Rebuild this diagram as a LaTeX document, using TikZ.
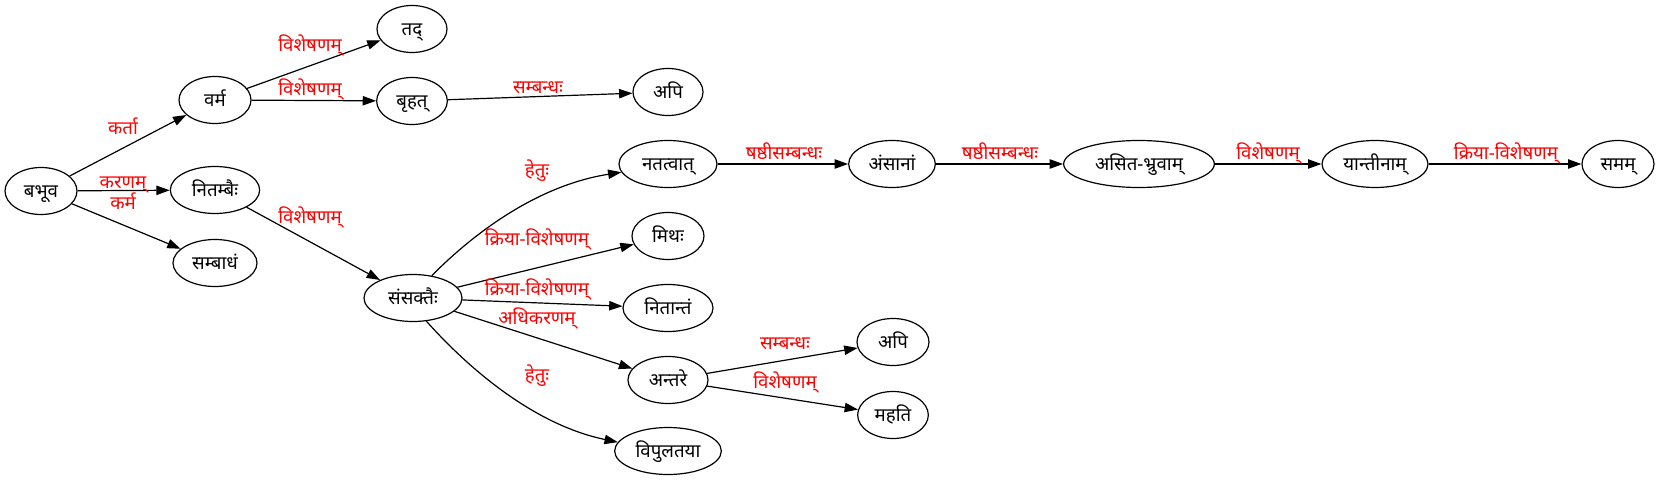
\documentclass[tikz,border=0pt]{standalone}
\usepackage{fontspec}
\setmainfont[Script=Devanagari]{Noto Sans}
\usetikzlibrary{arrows.meta,shapes.geometric}
\newcommand\ntx[1]{\makebox[0pt]{#1}}
\begin{document}
\begin{tikzpicture}[x=0.75pt,y=-0.75pt,
  nd/.style={draw, ellipse, inner sep=0pt, minimum height=35.25pt, line width=0.9pt,
    text height=10pt, text depth=0pt, font=\fontsize{14}{16}\selectfont},
  lbl/.style={text=red, inner sep=0pt, text height=10pt, text depth=0pt,
    font=\fontsize{14}{16}\selectfont},
  edge/.style={draw, line width=0.9pt, -{Triangle[length=10pt,width=7pt]}}]
\fill[white] (0,0) rectangle (1660,481);
\useasboundingbox (0,0) rectangle (1660,481);
% nodes
\node[nd, minimum width=54pt]   (b)     at (41,191)  {\ntx{बभूव}};
\node[nd, minimum width=54pt]   (v)     at (215,100) {\ntx{वर्म}};
\node[nd, minimum width=67pt]   (nit)   at (215,190) {\ntx{नितम्बैः}};
\node[nd, minimum width=63pt]   (sam)   at (215,263) {\ntx{सम्बाधं}};
\node[nd, minimum width=52.5pt] (tad)   at (412,29)  {\ntx{तद्}};
\node[nd, minimum width=53pt]   (br)    at (412,101) {\ntx{बृहत्}};
\node[nd, minimum width=52.5pt] (api1)  at (668,92)  {\ntx{अपि}};
\node[nd, minimum width=73.5pt] (s)     at (413,298) {\ntx{संसक्तैः}};
\node[nd, minimum width=73.5pt] (nat)   at (668,164) {\ntx{नतत्वात्}};
\node[nd, minimum width=54pt]   (mith)  at (668,236) {\ntx{मिथः}};
\node[nd, minimum width=67.5pt] (nitan) at (668,308) {\ntx{नितान्तं}};
\node[nd, minimum width=60pt]   (ant)   at (668,380) {\ntx{अन्तरे}};
\node[nd, minimum width=80pt]   (vip)   at (668,451) {\ntx{विपुलतया}};
\node[nd, minimum width=65pt]   (ams)   at (892,164) {\ntx{अंसानां}};
\node[nd, minimum width=113pt]  (asi)   at (1139,164) {\ntx{असित-भ्रुवाम्}};
\node[nd, minimum width=79.5pt] (yan)   at (1375,164) {\ntx{यान्तीनाम्}};
\node[nd, minimum width=54pt]   (sama)  at (1618,164) {\ntx{समम्}};
\node[nd, minimum width=54pt]   (api2)  at (893,342) {\ntx{अपि}};
\node[nd, minimum width=53pt]   (mah)   at (893,415) {\ntx{महति}};
% edges
\draw[edge] (b) -- (v) node[lbl, at={(123,128)}] (l1) {कर्ता};
\draw[edge] (b) -- (nit) node[lbl, at={(123,182)}] (l2) {करणम्};
\draw[edge] (b) -- (sam) node[lbl, at={(123,203)}] (l3) {कर्म};
\draw[edge] (v) -- (tad) node[lbl, at={(310,45)}] (l4) {विशेषणम्};
\draw[edge] (v) -- (br) node[lbl, at={(310,89)}] (l5) {विशेषणम्};
\draw[edge] (nit) -- (s) node[lbl, at={(310,217)}] (l6) {विशेषणम्};
\draw[edge] (br) -- (api1) node[lbl, at={(538,87)}] (l7) {सम्बन्धः};
\draw[edge] (s.50) .. controls (477,230) and (540,185) .. (nat.190) node[lbl, at={(537,170)}] (l8) {हेतुः};
\draw[edge] (s) -- (mith) node[lbl, at={(537,239)}] (l9) {क्रिया-विशेषणम्};
\draw[edge] (s) -- (nitan) node[lbl, at={(537,289)}] (l10) {क्रिया-विशेषणम्};
\draw[edge] (s) -- (ant) node[lbl, at={(537,318)}] (l11) {अधिकरणम्};
\draw[edge] (s.300) .. controls (470,370) and (535,425) .. (vip.170) node[lbl, at={(537,375)}] (l12) {हेतुः};
\draw[edge] (nat) -- (ams) node[lbl, at={(784,153)}] (l13) {षष्ठीसम्बन्धः};
\draw[edge] (ams) -- (asi) node[lbl, at={(1000,153)}] (l14) {षष्ठीसम्बन्धः};
\draw[edge] (asi) -- (yan) node[lbl, at={(1268,153)}] (l15) {विशेषणम्};
\draw[edge] (yan) -- (sama) node[lbl, at={(1506,153)}] (l16) {क्रिया-विशेषणम्};
\draw[edge] (ant) -- (api2) node[lbl, at={(785,343)}] (l17) {सम्बन्धः};
\draw[edge] (ant) -- (mah) node[lbl, at={(785,382)}] (l18) {विशेषणम्};
\end{tikzpicture}
\end{document}
